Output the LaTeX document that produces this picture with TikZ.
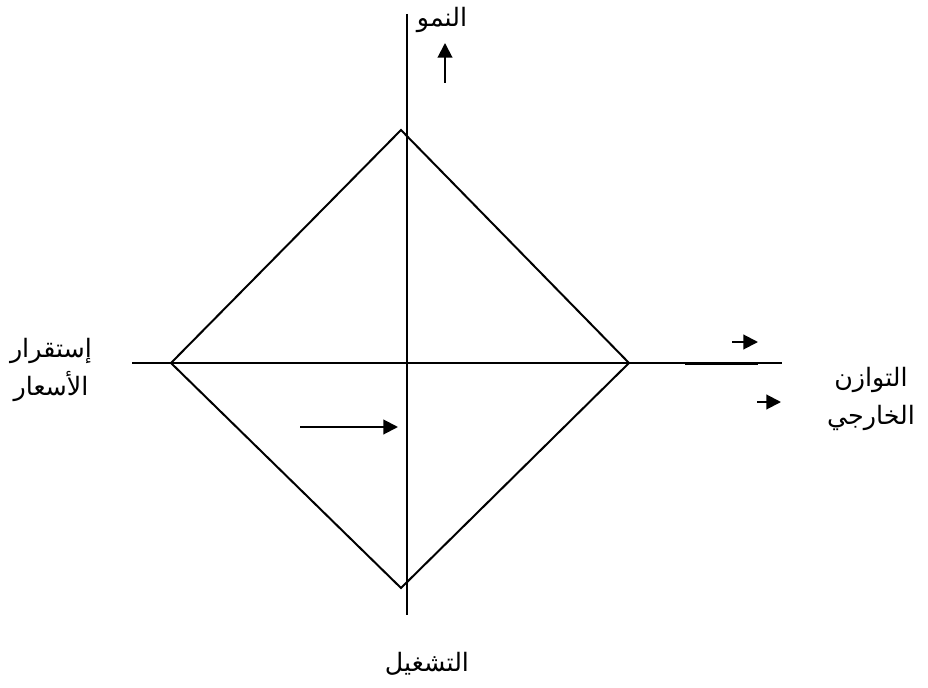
\documentclass[tikz,border=0pt]{standalone}
\usepackage{fontspec}
\newfontfamily\arabicfont[Script=Arabic]{DejaVu Sans}
\TeXXeTstate=1
\usepackage{tikz}
\usetikzlibrary{arrows.meta}

\begin{document}
\begin{tikzpicture}[
  x=0.75pt, y=-0.75pt,
  axis/.style={line width=1.5pt},
  arr/.style={-{Triangle[length=11pt, width=11pt]}, line width=1.5pt},
  lbl/.style={align=center, font=\arabicfont\fontsize{19}{29}\selectfont},
]
\useasboundingbox (0,0) rectangle (928,688);

% axes
\coordinate (ytop) at (407,14);
\coordinate (ybot) at (407,615);
\coordinate (xleft) at (132,363);
\coordinate (xright) at (782,363);
\draw[axis] (ytop) -- (ybot);
\draw[axis] (xleft) -- (xright);
\coordinate (seg1) at (685,364);
\coordinate (seg2) at (758,364);
\draw[line width=2.2pt] (seg1) -- (seg2);

% diamond
\coordinate (dtop) at (401,130);
\coordinate (dright) at (629,363);
\coordinate (dbot) at (401,588);
\coordinate (dleft) at (171,363);
\draw[axis] (dtop) -- (dright) -- (dbot) -- (dleft) -- cycle;

% labels
\node[lbl] (growth) at (442,20) {\beginR النمو\endR};
\node[lbl] (prices) at (51,370) {\beginR إستقرار\endR\\\beginR الأسعار\endR};
\node[lbl] (balance) at (871,399) {\beginR التوازن\endR\\\beginR الخارجي\endR};
\node[lbl] (employ) at (427,664) {\beginR التشغيل\endR};

% arrows
\coordinate (ga) at (445,83);
\coordinate (gb) at (445,43);
\draw[arr] (ga) -- (gb);
\coordinate (ea) at (300,427);
\coordinate (eb) at (398,427);
\draw[arr] (ea) -- (eb);
\coordinate (ba) at (732,342);
\coordinate (bb) at (758,342);
\draw[arr] (ba) -- (bb);
\coordinate (ca) at (757,402);
\coordinate (cb) at (781,402);
\draw[arr] (ca) -- (cb);
\end{tikzpicture}
\end{document}
